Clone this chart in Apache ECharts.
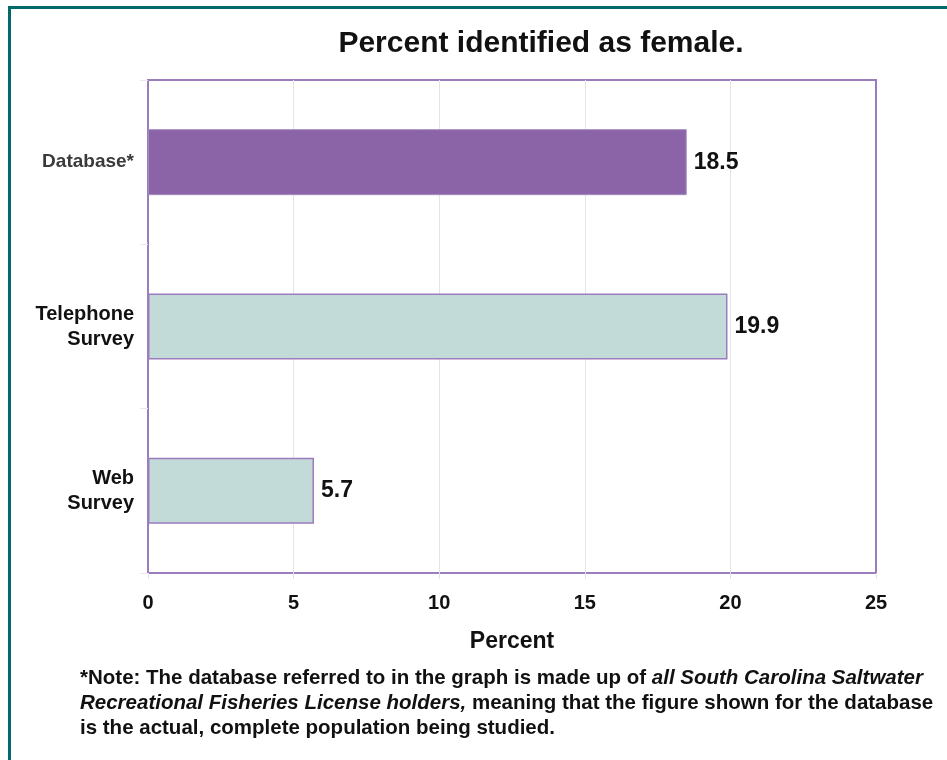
<!DOCTYPE html>
<html>
<head>
<meta charset="utf-8">
<script src="https://cdn.jsdelivr.net/npm/echarts@6/dist/echarts.min.js"></script>
<style>
  html, body { margin: 0; padding: 0; background: #fff; }
  #chart { width: 947px; height: 760px; }
</style>
</head>
<body>
<div id="chart"></div>
<script>
var categories = ['Database*', 'Telephone\nSurvey', 'Web\nSurvey'];
var percentValues = [18.5, 19.9, 5.7];
var xTicks = [0, 5, 10, 15, 20, 25];

var purple = '#8b64a8';
var purpleLine = '#9b7cbd';
var pale = '#c2dbd8';
var font = 'Arial, "Liberation Sans", sans-serif';

var chart = echarts.init(document.getElementById('chart'));

var barData = percentValues.map(function (v, i) {
    return {
        value: v,
        itemStyle: i === 0
            ? { color: purple, borderColor: '#a68bc0', borderWidth: 1 }
            : { color: pale, borderColor: purpleLine, borderWidth: 1.5 }
    };
});

var option = {
    animation: false,
    backgroundColor: '#fff',
    textStyle: { fontFamily: font },
    title: {
        text: 'Percent identified as female.',
        left: 536,
        top: 24,
        textAlign: 'center',
        textStyle: { fontSize: 30, fontWeight: 'bold', color: '#111', fontFamily: font }
    },
    grid: {
        left: 148, right: 71, top: 80, bottom: 187,
        show: true, borderColor: purpleLine, borderWidth: 2, backgroundColor: 'transparent'
    },
    xAxis: {
        type: 'value',
        min: xTicks[0],
        max: xTicks[xTicks.length - 1],
        interval: 5,
        name: 'Percent',
        nameLocation: 'middle',
        nameGap: 57,
        nameTextStyle: { fontSize: 23, fontWeight: 'bold', color: '#111' },
        axisLine: { show: false },
        axisTick: { show: true, length: 6, lineStyle: { color: '#e4e4e4' } },
        axisLabel: { fontSize: 20, fontWeight: 'bold', color: '#111', margin: 20 },
        splitLine: { show: true, showMinLine: false, showMaxLine: false, lineStyle: { color: '#e4e4e4', width: 1 } }
    },
    yAxis: {
        type: 'category',
        data: categories,
        inverse: true,
        axisLine: { show: false },
        axisTick: { show: true, length: 8, lineStyle: { color: '#e8e8e8' } },
        axisLabel: {
            margin: 14,
            fontSize: 20,
            fontWeight: 'bold',
            lineHeight: 25,
            align: 'right',
            formatter: function (v, i) {
                return i === 0 ? '{g|' + v + '}' : v;
            },
            color: '#111',
            rich: { g: { color: '#3a3a3a', fontSize: 19, fontWeight: 'bold' } }
        },
        splitLine: { show: false }
    },
    series: [{
        type: 'bar',
        data: barData,
        barWidth: 66,
        label: {
            show: true,
            position: 'right',
            distance: 7,
            fontSize: 23,
            fontWeight: 'bold',
            color: '#111'
        }
    }],
    graphic: [
        { type: 'rect', shape: { x: 8, y: 6, width: 947, height: 3 }, style: { fill: '#00696b' } },
        { type: 'rect', shape: { x: 8, y: 6, width: 3, height: 760 }, style: { fill: '#00696b' } },
        {
            type: 'text',
            left: 80,
            top: 666,
            style: {
                text: '{b|*Note: The database referred to in the graph is made up of }{i|all South Carolina Saltwater}\n' +
                      '{i|Recreational Fisheries License holders,}{b| meaning that the figure shown for the database}\n' +
                      '{b|is the actual, complete population being studied.}',
                fontFamily: font,
                fontSize: 20.5,
                fontWeight: 'bold',
                fill: '#111',
                lineHeight: 25,
                rich: {
                    b: { fontSize: 20.5, fontWeight: 'bold', fill: '#111', lineHeight: 25, fontFamily: font },
                    i: { fontSize: 20.5, fontWeight: 'bold', fontStyle: 'italic', fill: '#111', lineHeight: 25, fontFamily: font }
                }
            }
        }
    ]
};

chart.setOption(option);
</script>
</body>
</html>
